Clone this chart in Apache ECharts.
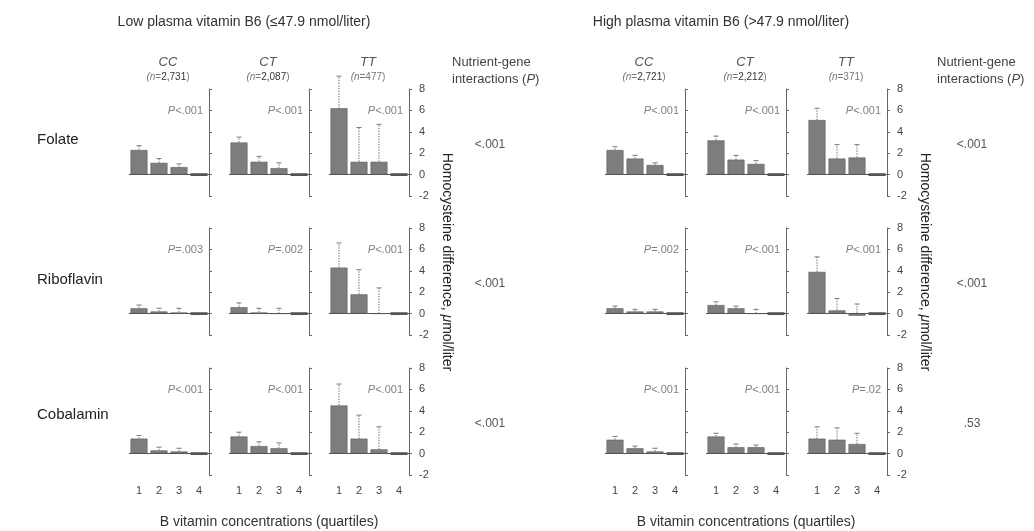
<!DOCTYPE html>
<html>
<head>
<meta charset="utf-8">
<script src="https://cdn.jsdelivr.net/npm/echarts@6/dist/echarts.min.js"></script>
<style>
html, body { margin: 0; padding: 0; background: #fff; }
#main { width: 1034px; height: 531px; }
</style>
</head>
<body>
<div id="main"></div>
<script>
// quartile categories and panel labels
var quartiles = ['1', '2', '3', '4'];
var genotypes = ['CC', 'CT', 'TT'];
var nutrients = ['Folate', 'Riboflavin', 'Cobalamin'];
var nLow = ['2,731', '2,087', '477'];
var nHigh = ['2,721', '2,212', '371'];

// mean homocysteine difference per quartile (CC, CT, TT), quartile 4 = reference
var lowFolateMean = [[2.3, 1.1, 0.7, 0], [3.0, 1.2, 0.6, 0], [6.2, 1.2, 1.2, 0]];
var lowFolateUpper = [[2.7, 1.5, 1.0, null], [3.5, 1.7, 1.1, null], [9.2, 4.4, 4.7, null]];
var lowRiboMean = [[0.5, 0.2, 0.1, 0], [0.6, 0.1, 0.0, 0], [4.3, 1.8, 0.0, 0]];
var lowRiboUpper = [[0.8, 0.5, 0.5, null], [1.0, 0.5, 0.5, null], [6.6, 4.1, 2.4, null]];
var lowCobaMean = [[1.4, 0.3, 0.2, 0], [1.6, 0.7, 0.5, 0], [4.5, 1.4, 0.4, 0]];
var lowCobaUpper = [[1.7, 0.6, 0.5, null], [2.0, 1.1, 1.0, null], [6.5, 3.6, 2.5, null]];

var highFolateMean = [[2.3, 1.5, 0.9, 0], [3.2, 1.4, 1.0, 0], [5.1, 1.5, 1.6, 0]];
var highFolateUpper = [[2.6, 1.8, 1.1, null], [3.6, 1.8, 1.3, null], [6.2, 2.8, 2.8, null]];
var highRiboMean = [[0.5, 0.2, 0.2, 0], [0.8, 0.5, 0.0, 0], [3.9, 0.3, -0.2, 0]];
var highRiboUpper = [[0.7, 0.4, 0.4, null], [1.1, 0.7, 0.4, null], [5.3, 1.4, 0.9, null]];
var highCobaMean = [[1.3, 0.5, 0.2, 0], [1.6, 0.6, 0.6, 0], [1.4, 1.3, 0.9, 0]];
var highCobaUpper = [[1.6, 0.7, 0.5, null], [1.9, 0.9, 0.8, null], [2.5, 2.4, 1.9, null]];

// P for trend inside each panel, and nutrient-gene interaction P
var pLow = [['<.001', '<.001', '<.001'], ['=.003', '=.002', '<.001'], ['<.001', '<.001', '<.001']];
var pHigh = [['<.001', '<.001', '<.001'], ['=.002', '<.001', '<.001'], ['<.001', '<.001', '=.02']];
var interactionLow = ['<.001', '<.001', '<.001'];
var interactionHigh = ['<.001', '<.001', '.53'];

var FONT = '"Liberation Sans", Arial, Helvetica, sans-serif';

var groups = [
    {
        title: 'Low plasma vitamin B6 (\u226447.9 nmol/liter)',
        axisX: [209, 309, 409], n: nLow, p: pLow, inter: interactionLow,
        mean: [lowFolateMean, lowRiboMean, lowCobaMean],
        upper: [lowFolateUpper, lowRiboUpper, lowCobaUpper]
    },
    {
        title: 'High plasma vitamin B6 (>47.9 nmol/liter)',
        axisX: [685, 786, 887], n: nHigh, p: pHigh, inter: interactionHigh,
        mean: [highFolateMean, highRiboMean, highCobaMean],
        upper: [highFolateUpper, highRiboUpper, highCobaUpper]
    }
];
var rowTop = [89, 228, 368];
var rowH = 107;

var grids = [], xAxes = [], yAxes = [], series = [], graphics = [];

function txt(x, y, text, o) {
    o = o || {};
    graphics.push({
        type: 'text', x: x, y: y, rotation: o.rotation || 0, silent: true,
        style: {
            text: text, fill: o.color || '#333', fontSize: o.size || 12,
            fontFamily: FONT, fontStyle: o.italic ? 'italic' : 'normal',
            fontWeight: o.weight || 'normal',
            align: o.align || 'center', verticalAlign: 'middle',
            rich: o.rich
        }
    });
}

function renderErr(params, api) {
    var x = api.value(0), m = api.value(1), u = api.value(2), isRef = api.value(3);
    var base = api.coord([x, m]);
    var bw = api.size([1, 0])[0] * 0.85;
    if (isRef) {
        return {
            type: 'line',
            shape: { x1: base[0] - bw / 2, y1: base[1], x2: base[0] + bw / 2, y2: base[1] },
            style: { stroke: '#333', lineWidth: 2.5 }
        };
    }
    var top = api.coord([x, u]);
    return {
        type: 'group',
        children: [
            { type: 'line', shape: { x1: base[0], y1: base[1], x2: base[0], y2: top[1] },
              style: { stroke: '#777', lineWidth: 1, lineDash: [1.5, 1.2] } },
            { type: 'line', shape: { x1: base[0] - 2.5, y1: top[1], x2: base[0] + 2.5, y2: top[1] },
              style: { stroke: '#777', lineWidth: 1 } }
        ]
    };
}

groups.forEach(function (g, gi) {
    var left = g.axisX[0] - 80, right = g.axisX[2];
    txt((left + right) / 2 - 25, 22, g.title, { size: 14, color: '#333' });

    g.axisX.forEach(function (ax, k) {
        txt(ax - 41, 62, genotypes[k], { size: 13, italic: true, color: '#555' });
        txt(ax - 41, 77, '{i|(n}{g|=}{b|' + g.n[k] + '}{g|)}', {
            size: 10,
            rich: {
                i: { fontStyle: 'italic', fontSize: 10, fill: '#777', fontFamily: FONT },
                g: { fontSize: 10, fill: '#777', fontFamily: FONT },
                b: { fontSize: 10, fill: k < 2 ? '#333' : '#777', fontFamily: FONT }
            }
        });
    });

    var hx = gi === 0 ? 452 : 937;
    txt(hx, 62, 'Nutrient-gene', { size: 13, align: 'left', color: '#444' });
    txt(hx, 79, 'interactions ({i|P})', {
        size: 13, align: 'left', color: '#444',
        rich: { i: { fontStyle: 'italic', fontSize: 13, fill: '#444', fontFamily: FONT } }
    });

    // y axis title, reads top to bottom
    txt(g.axisX[2] + 38, 262, 'Homocysteine difference, {i|\u03bc}mol/liter', {
        size: 14, rotation: -Math.PI / 2, color: '#222',
        rich: { i: { fontStyle: 'italic', fontSize: 14, fill: '#222', fontFamily: FONT } }
    });
    txt((left + right) / 2, 522, 'B vitamin concentrations (quartiles)', { size: 14, color: '#333' });

    for (var r = 0; r < 3; r++) {
        txt(gi === 0 ? 490 : 972, rowTop[r] + 56, g.inter[r], { size: 12, color: '#555' });

        for (var k = 0; k < 3; k++) {
            var ax = g.axisX[k];
            var idx = grids.length;
            var mean = g.mean[r][k], upper = g.upper[r][k];

            grids.push({ left: ax - 80, top: rowTop[r], width: 80, height: rowH });
            xAxes.push({
                gridIndex: idx, type: 'category', data: quartiles,
                axisLine: { show: false }, axisTick: { show: false },
                axisLabel: { show: r === 2, margin: 10, fontSize: 11, color: '#444', fontFamily: FONT }
            });
            yAxes.push({
                gridIndex: idx, type: 'value', min: -2, max: 8, interval: 2, position: 'right',
                axisLine: { show: true, lineStyle: { color: '#666', width: 1 } },
                axisTick: { show: true, length: 3, lineStyle: { color: '#666' } },
                splitLine: { show: false },
                axisLabel: { show: k === 2, margin: 10, fontSize: 11, color: '#444', fontFamily: FONT }
            });

            series.push({
                type: 'bar', xAxisIndex: idx, yAxisIndex: idx, barWidth: '85%',
                data: mean.map(function (v, i) { return upper[i] == null ? '-' : v; }),
                itemStyle: { color: '#7d7d7d', borderColor: '#5e5e5e', borderWidth: 0.6 },
                markLine: {
                    silent: true, symbol: ['none', 'none'], label: { show: false },
                    lineStyle: { color: '#555', width: 1, type: 'solid' },
                    data: [{ yAxis: 0 }], animation: false
                },
                animation: false
            });
            series.push({
                type: 'custom', xAxisIndex: idx, yAxisIndex: idx, clip: false,
                renderItem: renderErr,
                encode: { x: 0, y: 1 },
                data: mean.map(function (v, i) {
                    return upper[i] == null ? [i, v, v, 1] : [i, v, upper[i], 0];
                }),
                z: 3, animation: false
            });

            var p = g.p[r][k];
            txt(ax - 6, rowTop[r] + 22, '{i|P}' + p, {
                size: 11, align: 'right', color: '#808080',
                rich: { i: { fontStyle: 'italic', fontSize: 11, fill: '#808080', fontFamily: FONT } }
            });
        }
    }
});

nutrients.forEach(function (name, r) {
    txt(37, [140, 280, 415][r], name, { size: 15, align: 'left', color: '#222' });
});

var chart = echarts.init(document.getElementById('main'));
chart.setOption({
    backgroundColor: '#fff',
    animation: false,
    grid: grids,
    xAxis: xAxes,
    yAxis: yAxes,
    series: series,
    graphic: graphics
});
</script>
</body>
</html>
